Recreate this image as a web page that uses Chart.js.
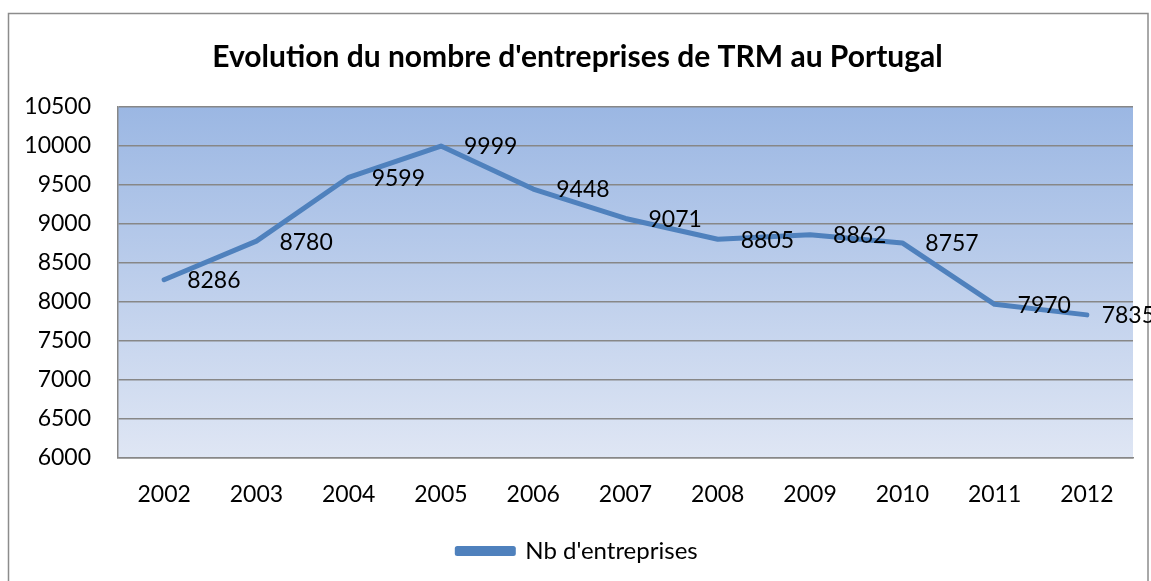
<!DOCTYPE html>
<html>
<head>
<meta charset="utf-8">
<script src="https://cdn.jsdelivr.net/npm/chart.js@4/dist/chart.umd.min.js"></script>
<style>
  html, body { margin: 0; padding: 0; background: #fff; }
  #wrap { width: 1151px; height: 581px; }
</style>
</head>
<body>
<div id="wrap"><canvas id="myChart" width="1151" height="581"></canvas></div>
<script>
// donnees
const annees = ['2002', '2003', '2004', '2005', '2006', '2007', '2008', '2009', '2010', '2011', '2012'];
const nbEntreprises = [8286, 8780, 9599, 9999, 9448, 9071, 8805, 8862, 8757, 7970, 7835];
const titre = "Evolution du nombre d'entreprises de TRM au Portugal";
const serie = "Nb d'entreprises";

const police = 'Lato, Carlito, Calibri, sans-serif';
const gris = '#878787';

// fond blanc, cadre exterieur et degrade de la zone de tracage
const fondPlugin = {
  id: 'fond',
  beforeDraw(chart) {
    const ctx = chart.ctx;
    const a = chart.chartArea;
    ctx.save();
    ctx.fillStyle = '#fff';
    ctx.fillRect(0, 0, chart.width, chart.height);
    ctx.strokeStyle = '#8c8c8c';
    ctx.lineWidth = 1.5;
    ctx.strokeRect(8.5, 13.5, 1139.5, chart.height + 20);
    const g = ctx.createLinearGradient(0, a.top, 0, a.bottom);
    g.addColorStop(0, '#9BB7E3');
    g.addColorStop(1, '#DFE6F4');
    ctx.fillStyle = g;
    ctx.fillRect(a.left, a.top, a.right - a.left, a.bottom - a.top);
    ctx.restore();
  }
};

// etiquettes de donnees a droite des points (ramenees vers la gauche au bord)
const etiquettesPlugin = {
  id: 'etiquettes',
  afterDatasetsDraw(chart) {
    const ctx = chart.ctx;
    const meta = chart.getDatasetMeta(0);
    ctx.save();
    ctx.font = '23px ' + police;
    ctx.fillStyle = '#000';
    ctx.textAlign = 'left';
    ctx.textBaseline = 'middle';
    meta.data.forEach((pt, i) => {
      const txt = String(nbEntreprises[i]);
      const w = ctx.measureText(txt).width;
      const x = Math.min(pt.x + 23, chart.width - w + 4);
      ctx.fillText(txt, x, pt.y + 1);
    });
    ctx.restore();
  }
};

new Chart(document.getElementById('myChart'), {
  type: 'line',
  data: {
    labels: annees,
    datasets: [{
      label: serie,
      data: nbEntreprises,
      borderColor: '#4F81BD',
      backgroundColor: '#4F81BD',
      borderWidth: 5,
      borderCapStyle: 'round',
      borderJoinStyle: 'round',
      pointRadius: 0,
      tension: 0
    }]
  },
  options: {
    responsive: false,
    animation: false,
    layout: { padding: { left: 22, right: 18, top: 0, bottom: 8 } },
    plugins: {
      title: {
        display: true,
        text: titre,
        color: '#000',
        font: { family: police, size: 30, weight: 'bold' },
        padding: { top: 39, bottom: 32 }
      },
      legend: {
        position: 'bottom',
        labels: {
          color: '#000',
          font: { family: police, size: 24 },
          boxWidth: 56,
          boxHeight: 5,
          padding: 6
        }
      },
      tooltip: { enabled: false }
    },
    scales: {
      x: {
        offset: true,
        grid: { display: false, drawTicks: false },
        border: { display: true, color: gris, width: 1.5 },
        ticks: { color: '#000', font: { family: police, size: 23 }, padding: 23, maxRotation: 0 },
        afterFit(scale) { scale.height = 75; }
      },
      y: {
        min: 6000,
        max: 10500,
        grid: { color: gris, lineWidth: 1.5, drawTicks: false },
        border: { display: true, color: gris, width: 1.5 },
        ticks: {
          stepSize: 500,
          color: '#000',
          font: { family: police, size: 23 },
          padding: 27,
          callback: (v) => String(v)
        },
        afterFit(scale) { scale.width = 96; }
      }
    }
  },
  plugins: [fondPlugin, etiquettesPlugin]
});
</script>
</body>
</html>
